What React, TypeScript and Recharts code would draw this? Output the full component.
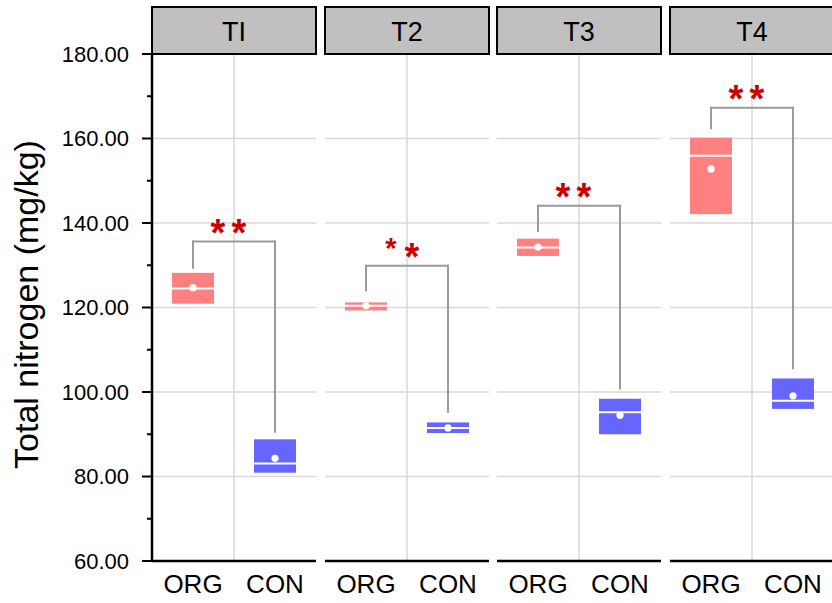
import React from 'react';
import { ComposedChart, Bar, Scatter, XAxis, YAxis, ReferenceLine, CartesianGrid } from 'recharts';

// ---------- data ----------
const panels = ['TI', 'T2', 'T3', 'T4'];
const groups = ['ORG', 'CON'];

const orgQ1 = [120.9, 119.3, 132.2, 142.1];
const orgQ3 = [128.2, 121.2, 136.3, 160.2];
const orgMedian = [124.5, 120.4, 134.2, 155.9];
const orgMean = [124.7, 120.4, 134.3, 152.8];

const conQ1 = [80.9, 90.3, 90.0, 96.0];
const conQ3 = [88.8, 92.8, 98.4, 103.2];
const conMedian = [83.1, 91.5, 95.2, 97.9];
const conMean = [84.3, 91.5, 94.5, 99.1];

const bracketOrgEnd = [129.4, 124.0, 138.1, 162.4];
const bracketTop = [135.6, 129.9, 144.1, 167.3];
const bracketConEnd = [90.6, 95.3, 100.9, 105.6];
const sigLabels = ['**', '**', '**', '**'];

const yDomain = [60, 180];
const yTicks = [60, 70, 80, 90, 100, 110, 120, 130, 140, 150, 160, 170, 180];
const yGrid = [80, 100, 120, 140, 160];
const yTitle = 'Total nitrogen (mg/kg)';

// ---------- style / layout ----------
const FONT = '"Liberation Sans", Arial, Helvetica, sans-serif';
const groupColors: Record<string, string> = { ORG: '#ff8080', CON: '#6666ff' };
const plotLefts = [152, 325, 497, 670];
const PLOT_W = 164;
const TOP = 54;
const XAXIS_H = 42;
const H = 603;
const Y_AXIS_W = 152;

const panelData = panels.map((_, i) => [
  { group: groups[0], box: [orgQ1[i], orgQ3[i]], median: orgMedian[i], mean: orgMean[i] },
  { group: groups[1], box: [conQ1[i], conQ3[i]], median: conMedian[i], mean: conMean[i] },
]);

const BoxShape = (props: any) => {
  const { x, y, width, height, payload } = props;
  if (x == null || y == null) return null;
  const top = Math.min(y, y + height);
  const h = Math.abs(height);
  const [lo, hi] = payload.box;
  const ym = top + (h * (hi - payload.median)) / (hi - lo);
  return (
    <g>
      <rect x={x} y={top} width={width} height={h} fill={groupColors[payload.group]} />
      <line x1={x} x2={x + width} y1={ym} y2={ym} stroke="#ffffff" strokeWidth={2} />
    </g>
  );
};

const MeanDot = (props: any) => {
  const { cx, cy } = props;
  if (cx == null || cy == null) return null;
  return <circle cx={cx} cy={cy} r={3.6} fill="#ffffff" />;
};

const YTick = (props: any) => {
  const { x, y, payload } = props;
  const v = payload.value as number;
  const major = v % 20 === 0;
  return (
    <g>
      <line x1={x - (major ? 10 : 5)} x2={x} y1={y} y2={y} stroke="#000" strokeWidth={2} />
      {major && (
        <text x={x - 23} y={y} dy="0.355em" textAnchor="end" fontSize={22} fill="#000" fontFamily={FONT}>
          {v.toFixed(2)}
        </text>
      )}
    </g>
  );
};

const YTitle = (props: any) => {
  const vb = props.viewBox || { x: 0, y: TOP, width: Y_AXIS_W, height: 507 };
  const x = vb.x + 38;
  const y = vb.y + vb.height / 2 - 3;
  return (
    <text x={x} y={y} transform={`rotate(-90, ${x}, ${y})`} textAnchor="middle" fontSize={34} fill="#000" fontFamily={FONT}>
      {yTitle}
    </text>
  );
};

const makeSig = (idx: number) => (props: any) => {
  const vb = props.viewBox;
  if (!vb) return null;
  const cx = vb.x + vb.width / 2;
  const y = vb.y;
  const chars = sigLabels[idx].split('');
  const firstSmall = panels[idx] === 'T2';
  const offsets = [-16, 5];
  return (
    <g>
      {chars.map((c, k) => {
        const small = firstSmall && k === 0;
        return (
          <text
            key={k}
            x={cx + offsets[k]}
            y={small ? y - 8 : y + 4}
            textAnchor="middle"
            fontSize={small ? 29 : 38}
            fontWeight="bold"
            fill="#cc0000"
            fontFamily={FONT}
          >
            {c}
          </text>
        );
      })}
    </g>
  );
};

// grid lines placed through the axes' own scales
const hGen = (p: any) => {
  const s = p?.yAxis?.scale;
  if (s && typeof s === 'function') return yGrid.map((v) => s(v));
  if (s && typeof s.map === 'function') return yGrid.map((v) => s.map(v));
  const o = p.offset;
  return yGrid.map((v) => o.top + (o.height * (yDomain[1] - v)) / (yDomain[1] - yDomain[0]));
};
const vGen = (p: any) => {
  const o = p.offset;
  const s = p?.xAxis?.scale;
  let v: any = undefined;
  if (s && typeof s === 'function') v = s(groups[1]);
  else if (s && typeof s.map === 'function') v = s.map(groups[1]);
  if (typeof v !== 'number' || isNaN(v)) v = o.left + o.width / 2;
  return [v];
};

const Panel = ({ idx }: { idx: number }) => {
  const first = idx === 0;
  const left = first ? 0 : plotLefts[idx] - 2;
  const width = first ? Y_AXIS_W + PLOT_W + 2 : PLOT_W + 4;
  const data = panelData[idx];
  return (
    <div style={{ position: 'absolute', left, top: 0 }}>
      <ComposedChart
        width={width}
        height={H}
        data={data}
        margin={{ top: TOP, right: 2, bottom: 0, left: first ? 0 : 2 }}
      >
        <CartesianGrid
          stroke="#d9d9d9"
          strokeWidth={1.5}
          horizontalCoordinatesGenerator={hGen}
          verticalCoordinatesGenerator={vGen}
        />
        <XAxis
          dataKey="group"
          type="category"
          interval={0}
          height={XAXIS_H}
          axisLine={{ stroke: '#000', strokeWidth: 2.5 }}
          tickLine={false}
          tickSize={0}
          tickMargin={14}
          tick={{ fontSize: 26, fill: '#000', fontFamily: FONT }}
        />
        {first ? (
          <YAxis
            type="number"
            domain={yDomain}
            ticks={yTicks}
            interval={0}
            width={Y_AXIS_W}
            allowDataOverflow
            axisLine={{ stroke: '#000', strokeWidth: 2.5 }}
            tickLine={false}
            tickSize={0}
            tickMargin={0}
            tick={<YTick />}
            label={<YTitle />}
          />
        ) : (
          <YAxis
            type="number"
            domain={yDomain}
            ticks={yTicks}
            width={0}
            allowDataOverflow
            axisLine={{ stroke: '#000', strokeWidth: 1.5 }}
            tickLine={false}
            tick={false}
          />
        )}
        <YAxis
          yAxisId="r"
          orientation="right"
          type="number"
          domain={yDomain}
          width={0}
          allowDataOverflow
          axisLine={{ stroke: '#7a7a7a', strokeWidth: 2 }}
          tickLine={false}
          tick={false}
        />
        <Bar dataKey="box" barSize={42} shape={<BoxShape />} isAnimationActive={false} />
        <Scatter dataKey="mean" shape={<MeanDot />} isAnimationActive={false} />
        <ReferenceLine
          segment={[{ x: groups[0], y: bracketOrgEnd[idx] }, { x: groups[0], y: bracketTop[idx] }]}
          stroke="#9a9a9a"
          strokeWidth={2}
          strokeLinecap="square"
        />
        <ReferenceLine
          segment={[{ x: groups[0], y: bracketTop[idx] }, { x: groups[1], y: bracketTop[idx] }]}
          stroke="#9a9a9a"
          strokeWidth={2}
          strokeLinecap="square"
          label={makeSig(idx)}
        />
        <ReferenceLine
          segment={[{ x: groups[1], y: bracketTop[idx] }, { x: groups[1], y: bracketConEnd[idx] }]}
          stroke="#9a9a9a"
          strokeWidth={2}
          strokeLinecap="square"
        />
      </ComposedChart>
    </div>
  );
};

export default function App() {
  return (
    <div
      style={{
        position: 'absolute',
        left: 0,
        top: 0,
        width: 832,
        height: 603,
        overflow: 'hidden',
        background: '#fff',
        fontFamily: FONT,
      }}
    >
      {panels.map((p, i) => (
        <Panel key={p} idx={i} />
      ))}
      {panels.map((p, i) => (
        <div
          key={'h' + p}
          style={{
            position: 'absolute',
            left: plotLefts[i] - 1,
            top: 6,
            width: PLOT_W + 2,
            height: 49,
            boxSizing: 'border-box',
            border: '2px solid #000',
            background: '#c0c0c0',
            textAlign: 'center',
            fontSize: 27,
            lineHeight: '49px',
            color: '#000',
          }}
        >
          {p}
        </div>
      ))}
    </div>
  );
}
